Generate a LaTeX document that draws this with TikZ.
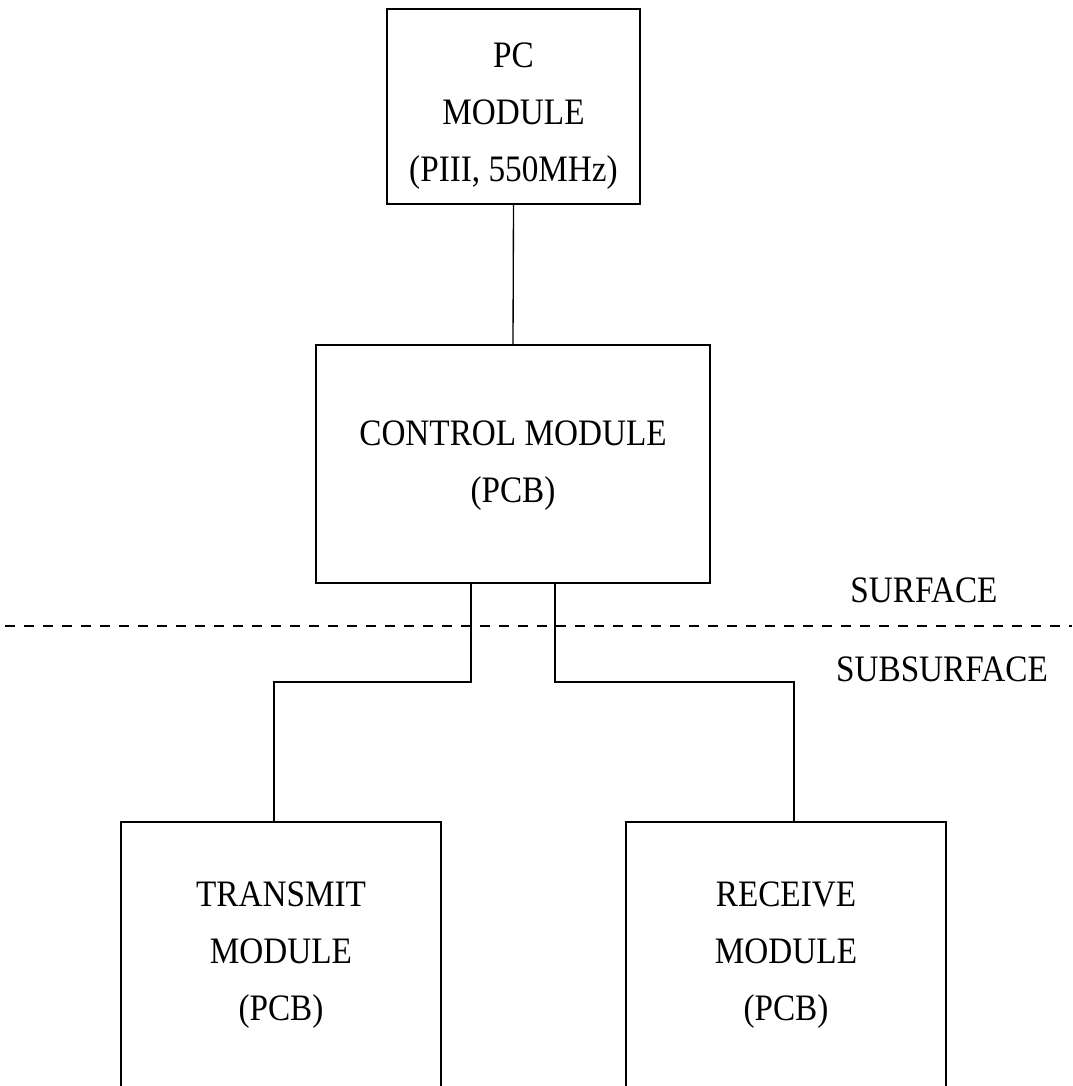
\documentclass[tikz,border=0pt]{standalone}
\usepackage{fontspec}
\setmainfont{Liberation Serif}[FakeStretch=0.89]
\begin{document}
\begin{tikzpicture}[x=0.75pt,y=-0.75pt,
  box/.style={draw,line width=1pt,inner sep=0pt,outer sep=0pt},
  lbl/.style={align=center,inner sep=0pt,font=\fontsize{28}{42.75}\selectfont},
  wire/.style={line width=1pt}]
\useasboundingbox (0,0) rectangle (1072,1086);
\clip (0,0) rectangle (1072,1086);
\node[box,minimum width=189.75pt,minimum height=146.25pt] (pc) at (513.5,106.5) {};
\node[lbl] (pct) at (513.5,116) {PC\\MODULE\\(PIII, 550MHz)};
\node[box,minimum width=295.5pt,minimum height=178.5pt] (ctrl) at (513,464) {};
\node[lbl] (ctrlt) at (513,466) {CONTROL MODULE\\(PCB)};
\node[box,minimum width=240pt,minimum height=208.5pt] (tx) at (281,961) {};
\node[lbl] (txt) at (281,955) {TRANSMIT\\MODULE\\(PCB)};
\node[box,minimum width=240pt,minimum height=208.5pt] (rx) at (786,961) {};
\node[lbl] (rxt) at (786,955) {RECEIVE\\MODULE\\(PCB)};
\node[lbl] (surf) at (924,590) {SURFACE};
\node[lbl] (subsurf) at (942,669) {SUBSURFACE};
\draw[line width=1pt,dash pattern=on 7.5pt off 6.75pt] (5,626) -- (1072,626);
\coordinate (j1) at (471,682);
\coordinate (j2) at (555,682);
\draw[wire] (pc.south) -- (ctrl.north);
\draw[wire] ([xshift=-31.5pt]ctrl.south) -- (j1) -| ([xshift=-5.25pt]tx.north);
\draw[wire] ([xshift=31.5pt]ctrl.south) -- (j2) -| ([xshift=6pt]rx.north);
\end{tikzpicture}
\end{document}
